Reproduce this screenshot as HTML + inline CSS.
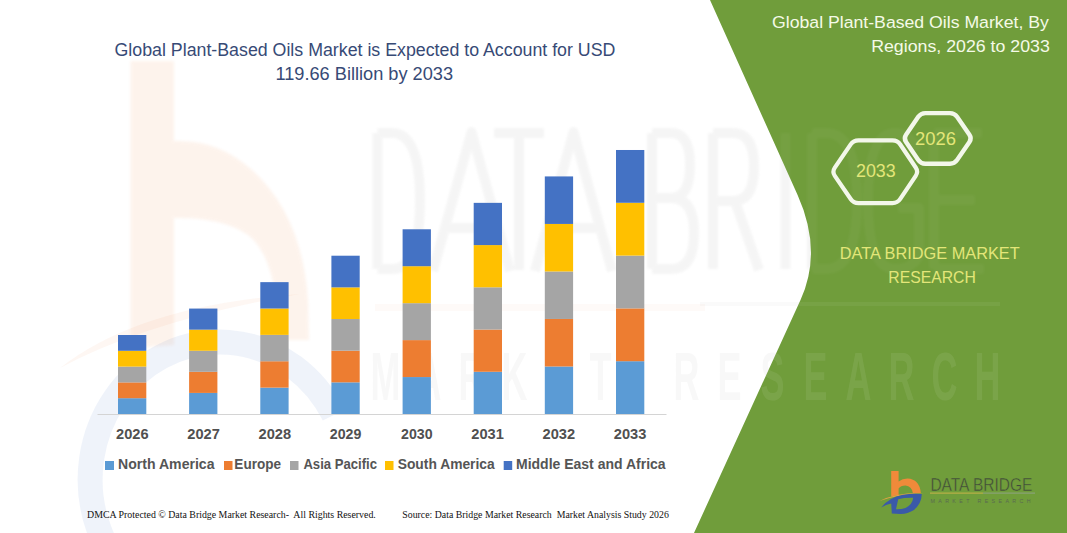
<!DOCTYPE html>
<html><head><meta charset="utf-8">
<style>
html,body{margin:0;padding:0;background:#fff;}
body{width:1067px;height:533px;overflow:hidden;position:relative;}
svg{position:absolute;left:0;top:0;display:block;}
</style></head><body>
<svg width="1067" height="533" viewBox="0 0 1067 533">
  <g fill="none" stroke="#c8c8c8" stroke-width="10" opacity="0.17" stroke-linejoin="round" style="filter:blur(1.2px)"><path d="M377.5,133 L377.5,269 M377.5,133 L392,133 Q420,133 420,201 Q420,269 392,269 L377.5,269"/><path d="M433,271 L471.5,132 L510,271 M444,228 L499,228"/><path d="M494,133 L544,133 M519,133 L519,270"/><path d="M535,271 L573.5,132 L612,271 M546,228 L601,228"/><path d="M652,133 L652,269 M652,133 L671,133 Q690,133 690,165 Q690,198 671,198 L652,198 M671,198 Q694,198 694,233 Q694,269 671,269 L652,269"/><path d="M713,133 L713,269 M713,133 L733,133 Q754,133 754,167 Q754,201 733,201 L713,201 M735,201 L759,270"/><path d="M785.5,133 L785.5,269"/><path d="M812,133 L812,269 M812,133 L826,133 Q857,133 857,201 Q857,269 826,269 L812,269"/><path d="M918,150 Q909,133 895,133 Q868,133 868,201 Q868,269 895,269 Q912,269 919,256 L919,208 L898,208"/><path d="M934,133 L934,269 M934,133 L982,133 M934,200 L975,200 M934,269 L984,269"/></g>
  <rect x="375" y="304" width="330" height="7" fill="#ed7d31" opacity="0.035"/>
  <rect x="700" y="302" width="300" height="4" fill="#000" opacity="0.02"/>
  <g font-size="69" font-weight="bold" font-family='"Liberation Sans",sans-serif' fill="#c8c8c8" opacity="0.12"><text transform="translate(385.5,400) scale(0.52,1)" text-anchor="middle">M</text><text transform="translate(428.5,400) scale(0.52,1)" text-anchor="middle">A</text><text transform="translate(471.5,400) scale(0.52,1)" text-anchor="middle">R</text><text transform="translate(514.5,400) scale(0.52,1)" text-anchor="middle">K</text><text transform="translate(557.5,400) scale(0.52,1)" text-anchor="middle">E</text><text transform="translate(600.5,400) scale(0.52,1)" text-anchor="middle">T</text><text transform="translate(686.5,400) scale(0.52,1)" text-anchor="middle">R</text><text transform="translate(729.5,400) scale(0.52,1)" text-anchor="middle">E</text><text transform="translate(772.5,400) scale(0.52,1)" text-anchor="middle">S</text><text transform="translate(815.5,400) scale(0.52,1)" text-anchor="middle">E</text><text transform="translate(858.5,400) scale(0.52,1)" text-anchor="middle">A</text><text transform="translate(901.5,400) scale(0.52,1)" text-anchor="middle">R</text><text transform="translate(944.5,400) scale(0.52,1)" text-anchor="middle">C</text><text transform="translate(987.5,400) scale(0.52,1)" text-anchor="middle">H</text></g>
  <g opacity="0.085" style="filter:blur(1.5px)">
    <path d="M130.5,61 L174,61 L174,141 Q218,139 252,170 Q302,215 308,300 L309,340 L277,340 L276,300 Q270,252 248,235 Q222,217 174,218 L174,345 L130.5,348 Z" fill="#ed7d31"/>
  </g>
  <path d="M197.5,615 A129.5,137.5 0 1 1 334,415" fill="none" stroke="#4472c4" stroke-width="25" opacity="0.085"/>
  <path d="M60,368 Q140,305 300,294 Q150,320 60,368 Z" fill="#ed7d31" opacity="0.06"/>

  <path d="M710,0 L1067,0 L1067,533 L694,533 L800.5,300 Q822.8,251.2 797.6,195 Z" fill="#709d3b"/>
  <clipPath id="gclip"><path d="M710,0 L1067,0 L1067,533 L694,533 L800.5,300 Q822.8,251.2 797.6,195 Z"/></clipPath>
  <g clip-path="url(#gclip)">
    <g fill="none" stroke="#ffffff" stroke-width="10" opacity="0.04" stroke-linejoin="round" style="filter:blur(1.5px)"><path d="M377.5,133 L377.5,269 M377.5,133 L392,133 Q420,133 420,201 Q420,269 392,269 L377.5,269"/><path d="M433,271 L471.5,132 L510,271 M444,228 L499,228"/><path d="M494,133 L544,133 M519,133 L519,270"/><path d="M535,271 L573.5,132 L612,271 M546,228 L601,228"/><path d="M652,133 L652,269 M652,133 L671,133 Q690,133 690,165 Q690,198 671,198 L652,198 M671,198 Q694,198 694,233 Q694,269 671,269 L652,269"/><path d="M713,133 L713,269 M713,133 L733,133 Q754,133 754,167 Q754,201 733,201 L713,201 M735,201 L759,270"/><path d="M785.5,133 L785.5,269"/><path d="M812,133 L812,269 M812,133 L826,133 Q857,133 857,201 Q857,269 826,269 L812,269"/><path d="M918,150 Q909,133 895,133 Q868,133 868,201 Q868,269 895,269 Q912,269 919,256 L919,208 L898,208"/><path d="M934,133 L934,269 M934,133 L982,133 M934,200 L975,200 M934,269 L984,269"/></g>
    <g font-size="69" font-weight="bold" font-family='"Liberation Sans",sans-serif' fill="#ffffff" opacity="0.075"><text transform="translate(385.5,400) scale(0.52,1)" text-anchor="middle">M</text><text transform="translate(428.5,400) scale(0.52,1)" text-anchor="middle">A</text><text transform="translate(471.5,400) scale(0.52,1)" text-anchor="middle">R</text><text transform="translate(514.5,400) scale(0.52,1)" text-anchor="middle">K</text><text transform="translate(557.5,400) scale(0.52,1)" text-anchor="middle">E</text><text transform="translate(600.5,400) scale(0.52,1)" text-anchor="middle">T</text><text transform="translate(686.5,400) scale(0.52,1)" text-anchor="middle">R</text><text transform="translate(729.5,400) scale(0.52,1)" text-anchor="middle">E</text><text transform="translate(772.5,400) scale(0.52,1)" text-anchor="middle">S</text><text transform="translate(815.5,400) scale(0.52,1)" text-anchor="middle">E</text><text transform="translate(858.5,400) scale(0.52,1)" text-anchor="middle">A</text><text transform="translate(901.5,400) scale(0.52,1)" text-anchor="middle">R</text><text transform="translate(944.5,400) scale(0.52,1)" text-anchor="middle">C</text><text transform="translate(987.5,400) scale(0.52,1)" text-anchor="middle">H</text></g>
    <rect x="700" y="302" width="300" height="4" fill="#ffffff" opacity="0.05"/>
  </g>

  <rect x="97.5" y="414" width="569" height="1" fill="#d4d4d4"/>
  <rect x="118.0" y="398.20" width="28.3" height="15.80" fill="#5b9bd5"/><rect x="118.0" y="382.40" width="28.3" height="15.80" fill="#ed7d31"/><rect x="118.0" y="366.60" width="28.3" height="15.80" fill="#a5a5a5"/><rect x="118.0" y="350.80" width="28.3" height="15.80" fill="#ffc000"/><rect x="118.0" y="335.00" width="28.3" height="15.80" fill="#4472c4"/><rect x="189.1" y="392.91" width="28.3" height="21.09" fill="#5b9bd5"/><rect x="189.1" y="371.83" width="28.3" height="21.09" fill="#ed7d31"/><rect x="189.1" y="350.74" width="28.3" height="21.09" fill="#a5a5a5"/><rect x="189.1" y="329.66" width="28.3" height="21.09" fill="#ffc000"/><rect x="189.1" y="308.57" width="28.3" height="21.09" fill="#4472c4"/><rect x="260.3" y="387.63" width="28.3" height="26.37" fill="#5b9bd5"/><rect x="260.3" y="361.26" width="28.3" height="26.37" fill="#ed7d31"/><rect x="260.3" y="334.88" width="28.3" height="26.37" fill="#a5a5a5"/><rect x="260.3" y="308.51" width="28.3" height="26.37" fill="#ffc000"/><rect x="260.3" y="282.14" width="28.3" height="26.37" fill="#4472c4"/><rect x="331.4" y="382.34" width="28.3" height="31.66" fill="#5b9bd5"/><rect x="331.4" y="350.68" width="28.3" height="31.66" fill="#ed7d31"/><rect x="331.4" y="319.03" width="28.3" height="31.66" fill="#a5a5a5"/><rect x="331.4" y="287.37" width="28.3" height="31.66" fill="#ffc000"/><rect x="331.4" y="255.71" width="28.3" height="31.66" fill="#4472c4"/><rect x="402.6" y="377.06" width="28.3" height="36.94" fill="#5b9bd5"/><rect x="402.6" y="340.11" width="28.3" height="36.94" fill="#ed7d31"/><rect x="402.6" y="303.17" width="28.3" height="36.94" fill="#a5a5a5"/><rect x="402.6" y="266.22" width="28.3" height="36.94" fill="#ffc000"/><rect x="402.6" y="229.28" width="28.3" height="36.94" fill="#4472c4"/><rect x="473.7" y="371.77" width="28.3" height="42.23" fill="#5b9bd5"/><rect x="473.7" y="329.54" width="28.3" height="42.23" fill="#ed7d31"/><rect x="473.7" y="287.31" width="28.3" height="42.23" fill="#a5a5a5"/><rect x="473.7" y="245.08" width="28.3" height="42.23" fill="#ffc000"/><rect x="473.7" y="202.85" width="28.3" height="42.23" fill="#4472c4"/><rect x="544.8" y="366.48" width="28.3" height="47.52" fill="#5b9bd5"/><rect x="544.8" y="318.97" width="28.3" height="47.52" fill="#ed7d31"/><rect x="544.8" y="271.45" width="28.3" height="47.52" fill="#a5a5a5"/><rect x="544.8" y="223.94" width="28.3" height="47.52" fill="#ffc000"/><rect x="544.8" y="176.42" width="28.3" height="47.52" fill="#4472c4"/><rect x="616.0" y="361.20" width="28.3" height="52.80" fill="#5b9bd5"/><rect x="616.0" y="308.40" width="28.3" height="52.80" fill="#ed7d31"/><rect x="616.0" y="255.59" width="28.3" height="52.80" fill="#a5a5a5"/><rect x="616.0" y="202.79" width="28.3" height="52.80" fill="#ffc000"/><rect x="616.0" y="149.99" width="28.3" height="52.80" fill="#4472c4"/>

  <rect x="105" y="461" width="9" height="9" fill="#5b9bd5"/>
  <rect x="224" y="461" width="8.5" height="9" fill="#ed7d31"/>
  <rect x="290" y="461" width="8.5" height="9" fill="#a5a5a5"/>
  <rect x="385" y="461" width="8.5" height="9" fill="#ffc000"/>
  <rect x="503.7" y="461" width="8.5" height="9" fill="#4472c4"/>

  <path d="M834.82,175.83 Q832.00,171.70 834.82,167.57 L850.68,144.43 Q853.50,140.30 858.50,140.30 L892.50,140.30 Q897.50,140.30 900.28,144.46 L915.72,167.54 Q918.50,171.70 915.72,175.86 L900.28,198.94 Q897.50,203.10 892.50,203.10 L858.50,203.10 Q853.50,203.10 850.68,198.97 Z" fill="none" stroke="#f3f7ea" stroke-width="4.2"/>
  <path d="M906.04,142.11 Q903.50,138.40 906.04,134.69 L918.26,116.81 Q920.80,113.10 925.30,113.10 L950.00,113.10 Q954.50,113.10 957.06,116.80 L969.44,134.70 Q972.00,138.40 969.44,142.10 L957.06,160.00 Q954.50,163.70 950.00,163.70 L925.30,163.70 Q920.80,163.70 918.26,159.99 Z" fill="none" stroke="#f3f7ea" stroke-width="4.4"/>

  <text id="t1" x="114.50" y="56" font-size="18.3" font-weight="normal" font-family='"Liberation Sans",sans-serif' fill="#374a76" textLength="500.90" lengthAdjust="spacingAndGlyphs">Global Plant-Based Oils Market is Expected to Account for USD</text>
  <text id="t2" x="275.38" y="80" font-size="18.3" font-weight="normal" font-family='"Liberation Sans",sans-serif' fill="#374a76" textLength="177.73" lengthAdjust="spacingAndGlyphs">119.66 Billion by 2033</text>
  <text id="r1" x="772.00" y="27.8" font-size="16.8" font-weight="normal" font-family='"Liberation Sans",sans-serif' fill="#f5fae8" textLength="276.81" lengthAdjust="spacingAndGlyphs">Global Plant-Based Oils Market, By</text>
  <text id="r2" x="871.18" y="51.5" font-size="16.8" font-weight="normal" font-family='"Liberation Sans",sans-serif' fill="#f5fae8" textLength="178.62" lengthAdjust="spacingAndGlyphs">Regions, 2026 to 2033</text>
  <text id="h1" x="855.96" y="176.9" font-size="18.6" font-weight="normal" font-family='"Liberation Sans",sans-serif' fill="#e3e679" textLength="39.77" lengthAdjust="spacingAndGlyphs">2033</text>
  <text id="h2" x="914.95" y="145.2" font-size="18.6" font-weight="normal" font-family='"Liberation Sans",sans-serif' fill="#e3e679" textLength="41.01" lengthAdjust="spacingAndGlyphs">2026</text>
  <text id="d1" x="839.79" y="259" font-size="17.3" font-weight="normal" font-family='"Liberation Sans",sans-serif' fill="#e3e679" textLength="179.91" lengthAdjust="spacingAndGlyphs">DATA BRIDGE MARKET</text>
  <text id="d2" x="888.35" y="282.8" font-size="17.3" font-weight="normal" font-family='"Liberation Sans",sans-serif' fill="#e3e679" textLength="87.41" lengthAdjust="spacingAndGlyphs">RESEARCH</text>
  <text id="f1" x="87.09" y="518" font-size="10.6" font-weight="normal" font-family='"Liberation Serif",serif' fill="#111" textLength="288.71" lengthAdjust="spacingAndGlyphs" xml:space="preserve">DMCA Protected © Data Bridge Market Research-  All Rights Reserved.</text>
  <text id="f2" x="402.30" y="518" font-size="10.6" font-weight="normal" font-family='"Liberation Serif",serif' fill="#111" textLength="266.51" lengthAdjust="spacingAndGlyphs" xml:space="preserve">Source: Data Bridge Market Research  Market Analysis Study 2026</text>
  <text id="l1" x="118.09" y="468.8" font-size="14" font-weight="bold" font-family='"Liberation Sans",sans-serif' fill="#555555" textLength="96.41" lengthAdjust="spacingAndGlyphs">North America</text>
  <text id="l2" x="234.37" y="468.8" font-size="14" font-weight="bold" font-family='"Liberation Sans",sans-serif' fill="#555555" textLength="46.63" lengthAdjust="spacingAndGlyphs">Europe</text>
  <text id="l3" x="303.39" y="468.8" font-size="14" font-weight="bold" font-family='"Liberation Sans",sans-serif' fill="#555555" textLength="73.61" lengthAdjust="spacingAndGlyphs">Asia Pacific</text>
  <text id="l4" x="397.69" y="468.8" font-size="14" font-weight="bold" font-family='"Liberation Sans",sans-serif' fill="#555555" textLength="97.03" lengthAdjust="spacingAndGlyphs">South America</text>
  <text id="l5" x="515.99" y="468.8" font-size="14" font-weight="bold" font-family='"Liberation Sans",sans-serif' fill="#555555" textLength="149.61" lengthAdjust="spacingAndGlyphs">Middle East and Africa</text>
  <text id="y2026" x="116.05" y="438.8" font-size="13.9" font-weight="bold" font-family='"Liberation Sans",sans-serif' fill="#505050" textLength="32.55" lengthAdjust="spacingAndGlyphs">2026</text>
  <text id="y2027" x="187.27" y="438.8" font-size="13.9" font-weight="bold" font-family='"Liberation Sans",sans-serif' fill="#505050" textLength="32.55" lengthAdjust="spacingAndGlyphs">2027</text>
  <text id="y2028" x="258.53" y="438.8" font-size="13.9" font-weight="bold" font-family='"Liberation Sans",sans-serif' fill="#505050" textLength="32.58" lengthAdjust="spacingAndGlyphs">2028</text>
  <text id="y2029" x="329.82" y="438.8" font-size="13.9" font-weight="bold" font-family='"Liberation Sans",sans-serif' fill="#505050" textLength="31.53" lengthAdjust="spacingAndGlyphs">2029</text>
  <text id="y2030" x="401.09" y="438.8" font-size="13.9" font-weight="bold" font-family='"Liberation Sans",sans-serif' fill="#505050" textLength="31.53" lengthAdjust="spacingAndGlyphs">2030</text>
  <text id="y2031" x="471.31" y="438.8" font-size="13.9" font-weight="bold" font-family='"Liberation Sans",sans-serif' fill="#505050" textLength="32.58" lengthAdjust="spacingAndGlyphs">2031</text>
  <text id="y2032" x="542.57" y="438.8" font-size="13.9" font-weight="bold" font-family='"Liberation Sans",sans-serif' fill="#505050" textLength="32.55" lengthAdjust="spacingAndGlyphs">2032</text>
  <text id="y2033" x="613.85" y="438.8" font-size="13.9" font-weight="bold" font-family='"Liberation Sans",sans-serif' fill="#505050" textLength="32.55" lengthAdjust="spacingAndGlyphs">2033</text>

  <g id="logo">
    <path d="M891.2,471 L898.6,471 L898.6,481.5 Q902.5,478.6 907.5,478.6 Q919.5,479.2 920.8,493 L912.8,493 Q911.8,486.2 905.5,485.6 Q900.6,485.6 898.6,488.5 L898.6,495 L891.2,496.5 Z" fill="#f08a3a"/>
    <path d="M879.5,501 Q897,492 923.5,493 Q898,494.5 879.5,501 Z" fill="#e2a344"/>
    <path d="M881.2,507.5 Q889,497.5 903,494.8 Q913,493.2 921.8,494 Q921.5,504 913.5,510.3 Q907.5,514 900.5,513.9 L891.8,513.4 L891.2,503.6 Q886,504.5 881.2,507.5 Z M896,509.2 L898.2,499.2 Q905,497.5 913.2,497.8 Q912.5,504.5 905.5,508 Q901,509.4 896,509.2 Z" fill="#3a5aa8" fill-rule="evenodd"/>
    <text x="930.4" y="490.5" font-size="17.5" font-family='"Liberation Sans",sans-serif' fill="#404a3a" stroke="#709d3b" stroke-width="0.45" textLength="102" lengthAdjust="spacingAndGlyphs" style="font-weight:normal">DATA BRIDGE</text>
    <rect x="930" y="492.6" width="53" height="1" fill="#c9b44a"/>
    <rect x="983" y="492.6" width="52" height="1" fill="#8fa384"/>
    <text x="930.5" y="502.5" font-size="5.3" font-weight="normal" font-family='"Liberation Sans",sans-serif' fill="#5a6a52" textLength="100" lengthAdjust="spacing">MARKET RESEARCH</text>
  </g>

</svg>
</body></html>
